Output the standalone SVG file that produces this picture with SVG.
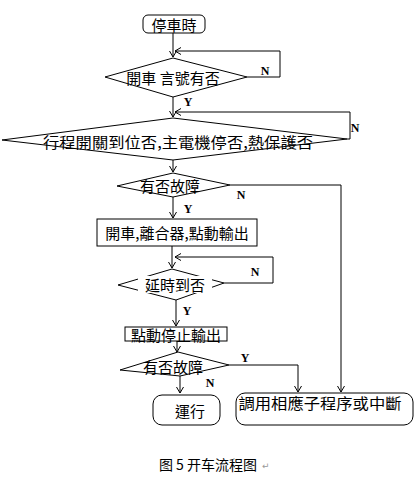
<svg xmlns="http://www.w3.org/2000/svg" width="419" height="481" viewBox="0 0 419 481">
<defs>
<marker id="arr" markerWidth="8" markerHeight="8" refX="6" refY="3.5" orient="auto" markerUnits="userSpaceOnUse">
<path d="M0,0 L6,3.5 L0,7" fill="none" stroke="#000" stroke-width="1"/>
</marker>
</defs>
<style>
.s{fill:#fff;stroke:#000;stroke-width:1}
.c{fill:none;stroke:#000;stroke-width:1;marker-end:url(#arr)}
.t{font-family:"Noto Sans CJK TC","Noto Sans CJK SC",sans-serif;font-size:15px;fill:#000;text-anchor:middle;dominant-baseline:central}
.yn{font-family:"Liberation Serif",serif;font-size:12px;font-weight:bold;fill:#000;text-anchor:middle;dominant-baseline:central}
.cap{font-family:"Noto Sans CJK SC",sans-serif;font-size:14px;fill:#000;text-anchor:middle;dominant-baseline:central}
</style>
<rect width="419" height="481" fill="#fff"/>
<g id="connectors">
<path class="c" d="M173,33 V57"/>
<path class="c" d="M247,77 H280 V51 H175"/>
<path class="c" d="M173,97 V117"/>
<path class="c" d="M347,139 H350 V112 H175"/>
<path class="c" d="M173,160 V172"/>
<path class="c" d="M230,185 H341 V392"/>
<path class="c" d="M173,197 V218"/>
<path class="c" d="M172,246 V268"/>
<path class="c" d="M224,283 H273 V257 H175"/>
<path class="c" d="M176,300 V326"/>
<path class="c" d="M177,341 V352"/>
<path class="c" d="M229,365 H298 V392"/>
<path class="c" d="M180,376 V393"/>
<text class="yn" x="265" y="71">N</text>
<text class="yn" x="188" y="102">Y</text>
<text class="yn" x="355" y="128">N</text>
<text class="yn" x="241" y="195">N</text>
<text class="yn" x="188" y="209">Y</text>
<text class="yn" x="255" y="272">N</text>
<text class="yn" x="187" y="311">Y</text>
<text class="yn" x="245" y="358">Y</text>
<text class="yn" x="210" y="383">N</text>
</g>
<g id="start">
<rect class="s" x="143" y="15" width="62" height="18" rx="5"/>
<text class="t" x="174" y="24">停車時</text>
</g>
<g id="d1">
<polygon class="s" points="105,77 173,58 247,77 173,97"/>
<text class="t" x="173" y="77">開車 言號有否</text>
</g>
<g id="d2">
<polygon class="s" points="2,140 173,118 347,139 173,160"/>
<text class="t" x="178" y="141" textLength="270" lengthAdjust="spacingAndGlyphs">行程開關到位否,主電機停否,熱保護否</text>
</g>
<g id="d3">
<polygon class="s" points="117,186 173,173 230,185 173,197"/>
<text class="t" x="170" y="185">有否故障</text>
</g>
<g id="p1">
<rect class="s" x="97" y="219" width="160" height="27"/>
<text class="t" x="177" y="232.5">開車,離合器,點動輸出</text>
</g>
<g id="d4">
<polygon class="s" points="118,285 172,269 224,283 176,300"/>
<rect x="138" y="276" width="74" height="17" fill="#fff"/>
<text class="t" x="175" y="284">延時到否</text>
</g>
<g id="p2">
<rect class="s" x="125" y="327" width="102" height="14"/>
<text class="t" x="176" y="334">點動停止輸出</text>
</g>
<g id="d5">
<polygon class="s" points="120,370 178,352 229,365 180,376"/>
<text class="t" x="173" y="366">有否故障</text>
</g>
<g id="run">
<rect class="s" x="153" y="395" width="67" height="30" rx="9"/>
<text class="t" x="190" y="410">運行</text>
</g>
<g id="sub">
<rect class="s" x="236" y="393" width="177" height="32" rx="9"/>
<text class="t" x="320" y="402" textLength="163" lengthAdjust="spacingAndGlyphs">調用相應子程序或中斷</text>
</g>
<g id="caption">
<text class="cap" x="208" y="464">图 5 开车流程图</text>
<text x="262" y="466" font-family="DejaVu Sans,sans-serif" font-size="9" fill="#999" dominant-baseline="central">↵</text>
</g>
</svg>
